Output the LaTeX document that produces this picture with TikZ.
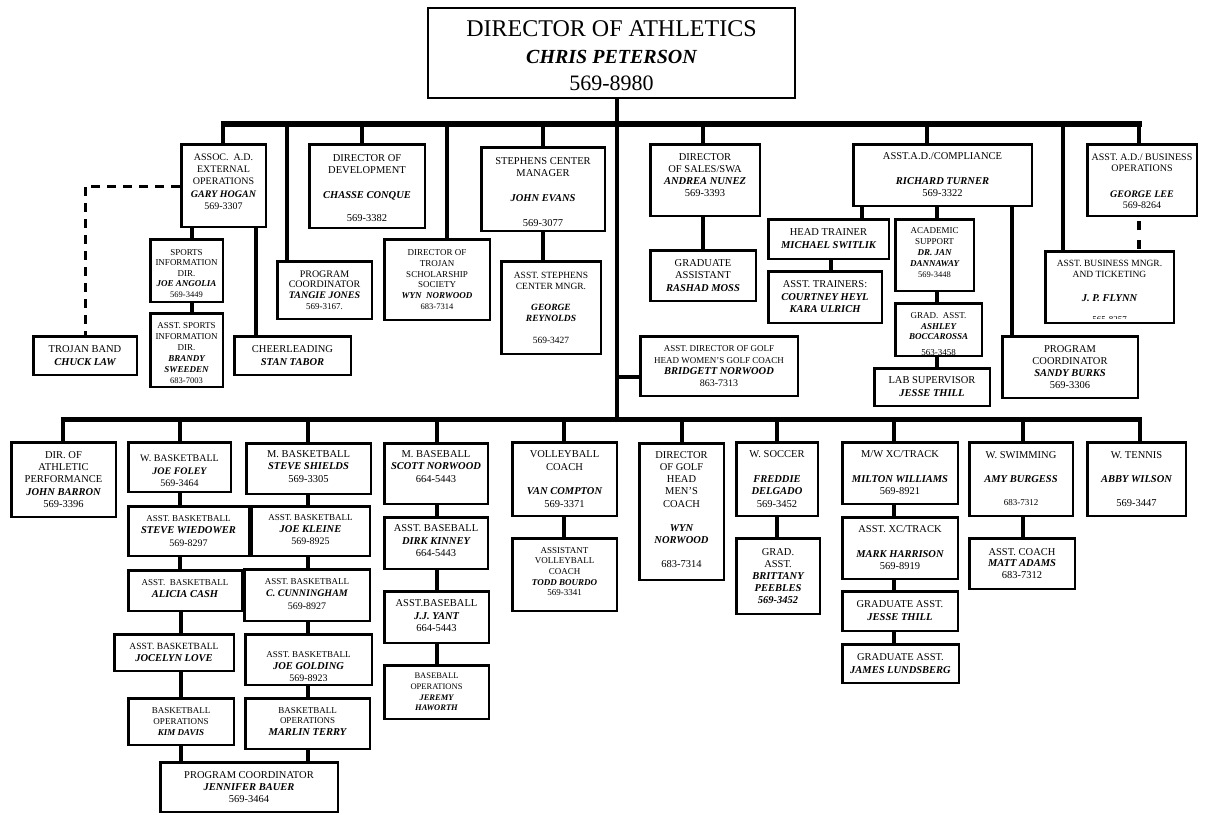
\documentclass[tikz,border=0pt]{standalone}
\usepackage{fontspec}
\setmainfont{Liberation Serif}
\frenchspacing
\newcommand\fs[2]{\fontsize{#1}{#2}\selectfont}
\newcommand\nm[1]{{\bfseries\itshape #1}}
\tikzset{
  box/.style={draw=black, fill=white, line width=2.5pt, inner sep=0pt},
  txt/.style={align=center, inner sep=0pt, font=\fs{10}{12}},
  link/.style={line width=4.5pt},
  bar/.style={line width=6pt},
  dlink/.style={line width=3pt, dash pattern=on 9pt off 7pt}
}
% box: name, left, top, right, bottom (outer edges), text offset, font, text
\newcommand\ob[8]{%
  \node[box, minimum width={(#4-#2-2.5)*1pt}, minimum height={(#5-#3-2.5)*1pt}] (#1) at ({(#2+#4)/2},{(#3+#5)/2}) {};
  \node[txt, font=#7] (#1-t) at ({(#2+#4)/2},{(#3+#5)/2+#6}) {#8};}
% drop from a bar down to a box
\newcommand\dr[3]{\coordinate (d#1) at (#2,#3); \draw[link] (d#1) -- (d#1 |- #1.north);}
% vertical link between two boxes at a given x
\newcommand\vl[3]{\coordinate (x#1#2) at (#3,0); \draw[link] (x#1#2 |- #1.south) -- (x#1#2 |- #2.north);}
\begin{document}
\begin{tikzpicture}[x=1pt,y=-1pt]
\useasboundingbox (0,0) rectangle (1206,814);

% ---- head
\node[box, line width=2pt, minimum width=367pt, minimum height=90pt] (top) at (611.5,53) {};
\node[txt, font=\fs{24}{27}] (top-t) at (611.5,56) {DIRECTOR OF ATHLETICS\\{\fs{20}{27}\nm{CHRIS PETERSON}}\\{\fs{22}{27}569-8980}};

% ---- upper tier
\ob{assoc}{180}{143}{267}{228}{-4}{\fs{10}{12.3}}{ASSOC.\ \ A.D.\\EXTERNAL\\OPERATIONS\\\nm{GARY HOGAN}\\569-3307}
\ob{sid}{149}{238}{224}{303}{3}{\fs{9}{10.5}}{SPORTS\\INFORMATION\\DIR.\\\nm{JOE ANGOLIA}\\{\fs{8.5}{10.5}569-3449}}
\ob{asid}{149}{312}{224}{388}{3}{\fs{9}{10.9}}{ASST. SPORTS\\INFORMATION\\DIR.\\\nm{BRANDY}\\\nm{SWEEDEN}\\{\fs{8.5}{10.9}683-7003}}
\ob{band}{32}{335}{138}{376}{0}{\fs{10.5}{12.5}}{TROJAN BAND\\\nm{CHUCK LAW}}
\ob{cheer}{233}{335}{352}{376}{0}{\fs{10.5}{12.5}}{CHEERLEADING\\\nm{STAN TABOR}}
\ob{dev}{308}{143}{426}{229}{2}{\fs{10.5}{11.5}}{DIRECTOR OF\\DEVELOPMENT\\[14pt]\nm{CHASSE CONQUE}\\[11pt]569-3382}
\ob{tangie}{276}{260}{373}{320}{0}{\fs{10}{10.7}}{PROGRAM\\COORDINATOR\\\nm{TANGIE JONES}\\{\fs{9}{10.7}569-3167.}}
\ob{scholar}{383}{238}{491}{321}{0}{\fs{9}{10.7}}{DIRECTOR OF\\TROJAN\\SCHOLARSHIP\\SOCIETY\\\nm{WYN\ \ NORWOOD}\\{\fs{8.5}{10.7}683-7314}}
\ob{stephens}{480}{146}{606}{232}{3}{\fs{10.5}{12}}{STEPHENS CENTER\\MANAGER\\[13pt]\nm{JOHN EVANS}\\[13pt]569-3077}
\ob{astephens}{500}{260}{602}{355}{0}{\fs{9.5}{11.3}}{ASST. STEPHENS\\CENTER MNGR.\\[10pt]\nm{GEORGE}\\\nm{REYNOLDS}\\[10pt]569-3427}
\ob{sales}{649}{143}{761}{217}{-5}{\fs{10.5}{12.2}}{DIRECTOR\\OF SALES/SWA\\\nm{ANDREA NUNEZ}\\569-3393}
\ob{rashad}{649}{249}{757}{302}{0}{\fs{10.5}{12.5}}{GRADUATE\\ASSISTANT\\\nm{RASHAD MOSS}}
\ob{bridgett}{639}{335}{799}{397}{0}{\fs{9}{11.7}}{ASST. DIRECTOR OF GOLF\\HEAD WOMEN’S GOLF COACH\\{\fs{10.5}{11.7}\nm{BRIDGETT NORWOOD}}\\{\fs{10}{11.7}863-7313}}
\ob{compliance}{852}{143}{1033}{207}{0}{\fs{10.5}{12}}{ASST.A.D./COMPLIANCE\\[13pt]\nm{RICHARD TURNER}\\569-3322}
\ob{headtrainer}{767}{218}{890}{260}{0}{\fs{10.5}{13}}{HEAD TRAINER\\\nm{MICHAEL SWITLIK}}
\ob{trainers}{767}{270}{883}{324}{0}{\fs{10.5}{12.5}}{ASST. TRAINERS:\\\nm{COURTNEY HEYL}\\\nm{KARA ULRICH}}
\ob{academic}{894}{218}{975}{292}{-2}{\fs{9}{11}}{ACADEMIC\\SUPPORT\\\nm{DR. JAN}\\\nm{DANNAWAY}\\{\fs{8.5}{11}569-3448}}
\ob{ashley}{894}{302}{983}{357}{-3}{\fs{9}{10.5}}{GRAD.\ \ ASST.\\\nm{ASHLEY}\\\nm{BOCCAROSSA}}
\ob{lab}{873}{367}{991}{407}{0}{\fs{10.5}{13}}{LAB SUPERVISOR\\\nm{JESSE THILL}}
\ob{sandy}{1001}{335}{1139}{399}{0}{\fs{10.5}{11.9}}{PROGRAM\\COORDINATOR\\\nm{SANDY BURKS}\\569-3306}
\ob{bizops}{1086}{143}{1198}{217}{1}{\fs{10}{11.5}}{ASST. A.D./ BUSINESS\\OPERATIONS\\[14pt]\nm{GEORGE LEE}\\569-8264}
\ob{flynn}{1044}{250}{1175}{324}{-6.5}{\fs{9.5}{11}}{ASST. BUSINESS MNGR.\\AND TICKETING\\[13pt]{\fs{10.5}{11}\nm{J. P. FLYNN}}}

% phone numbers cut off by their box
\begin{scope}
  \clip ([shift={(2.5,-2.5)}]ashley.south west) rectangle ([shift={(-2.5,2.5)}]ashley.north east);
  \node[txt, font=\fs{9}{10}] (ashley-ph) at (938.5,353) {563-3458};
\end{scope}
\begin{scope}
  \clip ([shift={(2.5,-5.5)}]flynn.south west) rectangle ([shift={(-2.5,2.5)}]flynn.north east);
  \node[txt, font=\fs{9}{10}] (flynn-ph) at (1109.5,320) {565-8257};
\end{scope}

% ---- lower tier
\ob{perf}{10}{441}{117}{518}{0}{\fs{10.5}{12.1}}{DIR. OF\\ATHLETIC\\PERFORMANCE\\\nm{JOHN BARRON}\\569-3396}
\ob{wbb}{127}{441}{232}{493}{4}{\fs{10}{12.5}}{W. BASKETBALL\\\nm{JOE FOLEY}\\569-3464}
\ob{wiedower}{127}{505}{250}{557}{0}{\fs{9}{12.2}}{ASST. BASKETBALL\\{\fs{10.5}{12.2}\nm{STEVE WIEDOWER}}\\{\fs{10}{12.2}569-8297}}
\ob{alicia}{127}{569}{243}{612}{-2}{\fs{9}{12}}{ASST.\ \ BASKETBALL\\{\fs{10.5}{12}\nm{ALICIA CASH}}}
\ob{jocelyn}{113}{633}{235}{672}{0}{\fs{9.5}{12}}{ASST. BASKETBALL\\{\fs{10.5}{12}\nm{JOCELYN LOVE}}}
\ob{kimdavis}{127}{697}{235}{746}{0}{\fs{9}{11.3}}{BASKETBALL\\OPERATIONS\\\nm{KIM DAVIS}}
\ob{bauer}{159}{761}{339}{813}{0}{\fs{10.5}{12.2}}{PROGRAM COORDINATOR\\\nm{JENNIFER BAUER}\\569-3464}
\ob{shields}{245}{442}{372}{495}{-2}{\fs{10.5}{12.3}}{M. BASKETBALL\\\nm{STEVE SHIELDS}\\569-3305}
\ob{kleine}{250}{505}{371}{557}{-1.5}{\fs{9}{12.2}}{ASST. BASKETBALL\\{\fs{10.5}{12.2}\nm{JOE KLEINE}}\\{\fs{10}{12.2}569-8925}}
\ob{cunningham}{243}{568}{371}{622}{-1}{\fs{9}{12.2}}{ASST. BASKETBALL\\{\fs{10}{12.2}\nm{C. CUNNINGHAM}}\\{\fs{10}{12.2}569-8927}}
\ob{golding}{244}{633}{373}{686}{7}{\fs{9}{12.2}}{ASST. BASKETBALL\\{\fs{10.5}{12.2}\nm{JOE GOLDING}}\\{\fs{10}{12.2}569-8923}}
\ob{terry}{244}{697}{371}{750}{-2}{\fs{9}{10}}{BASKETBALL\\OPERATIONS\\[2.5pt]{\fs{10.5}{12}\nm{MARLIN TERRY}}}
\ob{scott}{383}{442}{489}{505}{-7}{\fs{10.5}{12.3}}{M. BASEBALL\\\nm{SCOTT NORWOOD}\\664-5443}
\ob{dirk}{383}{516}{489}{570}{-2}{\fs{10.5}{12.5}}{ASST. BASEBALL\\\nm{DIRK KINNEY}\\664-5443}
\ob{yant}{383}{590}{490}{644}{-1}{\fs{10.5}{12.5}}{ASST.BASEBALL\\\nm{J.J. YANT}\\664-5443}
\ob{jeremy}{383}{664}{490}{720}{0}{\fs{8.5}{10.7}}{BASEBALL\\OPERATIONS\\\nm{JEREMY}\\\nm{HAWORTH}}
\ob{volley}{511}{441}{618}{517}{0}{\fs{10.5}{12.3}}{VOLLEYBALL\\COACH\\[12.5pt]\nm{VAN COMPTON}\\569-3371}
\ob{avolley}{511}{537}{618}{612}{-3}{\fs{9}{10.7}}{ASSISTANT\\VOLLEYBALL\\COACH\\\nm{TODD BOURDO}\\569-3341}
\ob{golf}{638}{442}{725}{581}{-2}{\fs{10.5}{12.2}}{DIRECTOR\\OF GOLF\\HEAD\\MEN’S\\COACH\\[12pt]\nm{WYN}\\\nm{NORWOOD}\\[12pt]683-7314}
\ob{soccer}{735}{441}{819}{517}{0}{\fs{10.5}{12.3}}{W. SOCCER\\[12.5pt]\nm{FREDDIE}\\\nm{DELGADO}\\569-3452}
\ob{brittany}{735}{537}{821}{615}{0}{\fs{10.5}{12.2}}{GRAD.\\ASST.\\\nm{BRITTANY}\\\nm{PEEBLES}\\\nm{569-3452}}
\ob{xc}{841}{441}{959}{505}{0}{\fs{10.5}{12.3}}{M/W XC/TRACK\\[12.5pt]\nm{MILTON WILLIAMS}\\569-8921}
\ob{mark}{841}{516}{959}{580}{0}{\fs{10.5}{12.3}}{ASST. XC/TRACK\\[12.5pt]\nm{MARK HARRISON}\\569-8919}
\ob{jthill}{841}{590}{959}{632}{0}{\fs{10.5}{13}}{GRADUATE ASST.\\\nm{JESSE THILL}}
\ob{lundsberg}{841}{643}{960}{684}{0}{\fs{10.5}{12.7}}{GRADUATE ASST.\\\nm{JAMES LUNDSBERG}}
\ob{swim}{968}{441}{1074}{517}{0}{\fs{10.5}{12}}{W. SWIMMING\\[11.5pt]\nm{AMY BURGESS}\\[11.5pt]{\fs{9}{12}683-7312}}
\ob{adams}{968}{537}{1076}{590}{0}{\fs{10.5}{11.7}}{ASST. COACH\\\nm{MATT ADAMS}\\683-7312}
\ob{tennis}{1086}{441}{1187}{517}{0}{\fs{10.5}{12}}{W. TENNIS\\[12pt]\nm{ABBY WILSON}\\[12pt]569-3447}

% ---- bars and trunk
\coordinate (tbl) at (220.5,124);
\coordinate (tbr) at (1142,124);
\draw[bar] (tbl) -- (tbr);
\coordinate (bbl) at (60.5,419);
\coordinate (bbr) at (1142,419);
\draw[line width=5pt] (bbl) -- (bbr);
\coordinate (trunk) at (617,419);
\draw[link] (trunk |- top.south) -- (trunk);
\coordinate (bj) at (617,377);
\draw[link] (bj) -- (bj -| bridgett.west);

% drops from the upper bar
\dr{assoc}{223}{124}
\dr{tangie}{287}{124}
\dr{dev}{362}{124}
\dr{scholar}{447}{124}
\dr{stephens}{543}{124}
\dr{sales}{703}{124}
\dr{compliance}{927}{124}
\dr{flynn}{1063}{124}
\dr{bizops}{1139}{124}

% drops from the lower bar
\dr{perf}{63}{419}
\dr{wbb}{180}{419}
\dr{shields}{308}{419}
\dr{scott}{437}{419}
\dr{volley}{564}{419}
\dr{golf}{682}{419}
\dr{soccer}{777}{419}
\dr{xc}{894}{419}
\dr{swim}{1023}{419}
\dr{tennis}{1140}{419}

% reporting lines, upper tier
\vl{assoc}{sid}{192}
\vl{sid}{asid}{192}
\vl{assoc}{cheer}{256}
\coordinate (bandc) at (85,186);
\draw[dlink] (assoc.west |- bandc) -- (bandc) -- (bandc |- band.north);
\vl{stephens}{astephens}{543}
\vl{sales}{rashad}{703}
\vl{compliance}{headtrainer}{862}
\vl{headtrainer}{trainers}{831}
\vl{compliance}{academic}{937}
\vl{academic}{ashley}{937}
\vl{ashley}{lab}{937}
\vl{compliance}{sandy}{1012}
\coordinate (bizx) at (1139,0);
\draw[line width=3.5pt, dash pattern=on 9pt off 10pt, dash phase=15pt] (bizx |- bizops.south) -- (bizx |- flynn.north);

% reporting lines, lower tier
\vl{wbb}{wiedower}{180}
\vl{wiedower}{alicia}{180}
\vl{alicia}{jocelyn}{181}
\vl{jocelyn}{kimdavis}{181}
\vl{kimdavis}{bauer}{181}
\vl{shields}{kleine}{308}
\vl{kleine}{cunningham}{308}
\vl{cunningham}{golding}{308}
\vl{golding}{terry}{308}
\vl{terry}{bauer}{308}
\vl{scott}{dirk}{437}
\vl{dirk}{yant}{437}
\vl{yant}{jeremy}{437}
\vl{volley}{avolley}{564}
\vl{soccer}{brittany}{777}
\vl{xc}{mark}{894}
\vl{mark}{jthill}{894}
\vl{jthill}{lundsberg}{894}
\vl{swim}{adams}{1023}
\end{tikzpicture}
\end{document}
